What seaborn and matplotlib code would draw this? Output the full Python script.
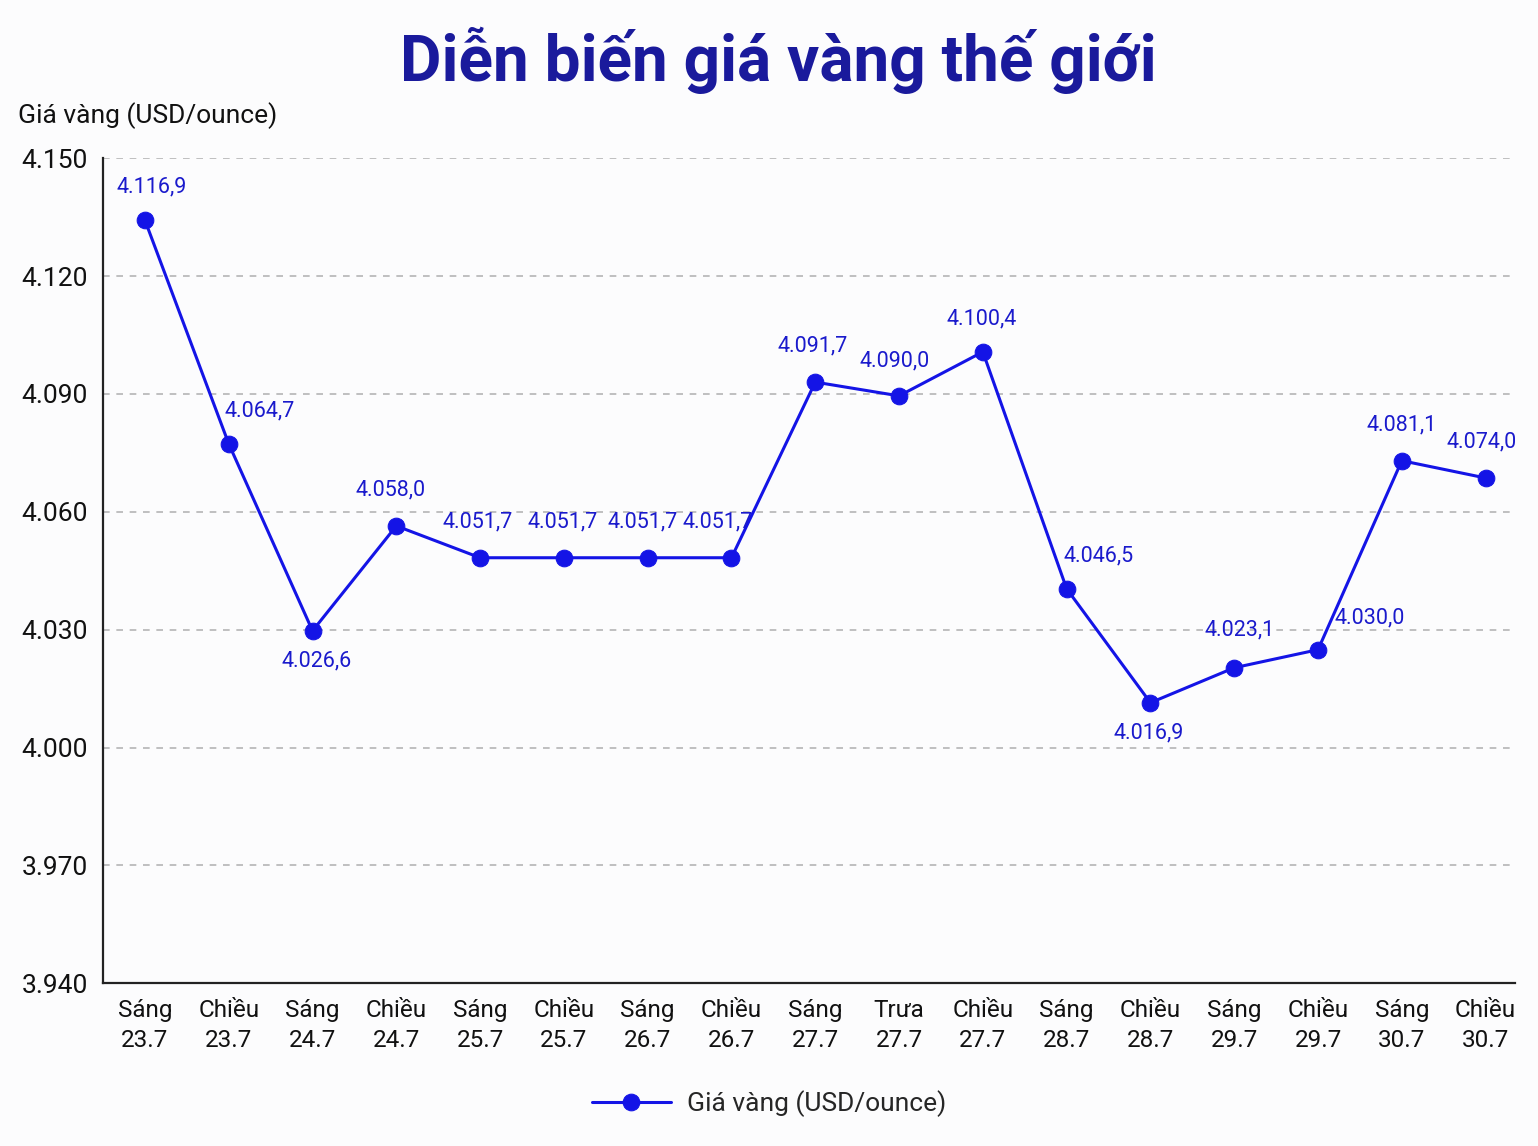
import matplotlib
matplotlib.use("Agg")
import matplotlib.pyplot as plt
import numpy as np
import pandas as pd
import seaborn as sns

# x categories (session / day)
sessions = ['Sáng', 'Chiều', 'Sáng', 'Chiều', 'Sáng', 'Chiều', 'Sáng', 'Chiều',
            'Sáng', 'Trưa', 'Chiều', 'Sáng', 'Chiều', 'Sáng', 'Chiều', 'Sáng', 'Chiều']
days = ['23.7', '23.7', '24.7', '24.7', '25.7', '25.7', '26.7', '26.7',
        '27.7', '27.7', '27.7', '28.7', '28.7', '29.7', '29.7', '30.7', '30.7']
# marker heights as drawn on the y axis of the picture
price_plotted = [4134.2, 4077.3, 4029.7, 4056.4, 4048.3, 4048.3, 4048.3, 4048.3,
                 4093.0, 4089.5, 4100.7, 4040.4, 4011.4, 4020.3, 4024.9, 4073.0, 4068.6]
# printed point labels
price_labels = ['4.116,9', '4.064,7', '4.026,6', '4.058,0', '4.051,7', '4.051,7', '4.051,7', '4.051,7',
                '4.091,7', '4.090,0', '4.100,4', '4.046,5', '4.016,9', '4.023,1', '4.030,0', '4.081,1', '4.074,0']
y_ticks = [3940, 3970, 4000, 4030, 4060, 4090, 4120, 4150]

# label offsets in points (dx, dy)
label_offsets = [(5, 24), (22, 24), (3, -22), (-4, 26), (-2, 26), (-1, 26), (-4, 26), (-10, 26),
                 (-2, 26), (-3, 25), (-1, 24), (23, 24), (-1, -22), (4, 27), (37, 23), (0, 26), (-3, 26)]

df = pd.DataFrame({'x': np.arange(len(days)), 'price': price_plotted})

sns.set_theme(style='white')
plt.rcParams['font.family'] = ['Roboto', 'DejaVu Sans']

blue = '#1414e6'
label_blue = '#1a1acc'

fig = plt.figure(figsize=(15.38, 11.46), dpi=100, facecolor='#fcfcfd')
ax = fig.add_axes([0.067, 0.142, 0.918, 0.72])
ax.set_facecolor('#fcfcfd')

sns.lineplot(data=df, x='x', y='price', ax=ax, color=blue, linewidth=2.2,
             marker='o', markersize=12, markeredgecolor=blue, markerfacecolor=blue,
             label='Giá vàng (USD/ounce)', legend=False)

for i, (val, txt) in enumerate(zip(price_plotted, price_labels)):
    dx, dy = label_offsets[i]
    ax.annotate(txt, xy=(i, val), xytext=(dx, dy), textcoords='offset points',
                ha='center', va='center', fontsize=15.5, color=label_blue)

ax.set_ylim(3940, 4150)
ax.set_xlim(-0.5, 16.35)
ax.set_yticks(y_ticks)
ax.set_yticklabels([f'{v:,}'.replace(',', '.') for v in y_ticks], fontsize=19)
ax.set_xticks(np.arange(len(days)))
ax.set_xticklabels([f'{s}\n{d}' for s, d in zip(sessions, days)], fontsize=17.5, linespacing=1.4)
ax.tick_params(axis='both', direction='out', length=7, width=1.2, color='#222222', labelcolor='#111111')
ax.tick_params(axis='x', pad=4)
ax.tick_params(axis='y', pad=4)
ax.set_xlabel('')
ax.set_ylabel('')

for v in y_ticks[1:]:
    ax.axhline(v, color='#b5b5b5', linestyle=(0, (4, 4)), linewidth=1.2, zorder=0)

for side in ['top', 'right']:
    ax.spines[side].set_visible(False)
for side in ['left', 'bottom']:
    ax.spines[side].set_color('#222222')
    ax.spines[side].set_linewidth(1.6)

fig.text(0.506, 0.947, 'Diễn biến giá vàng thế giới', ha='center', va='center',
         fontsize=46, fontweight='bold', color='#1a1a9c')
fig.text(0.012, 0.899, 'Giá vàng (USD/ounce)', ha='left', va='center', fontsize=19, color='#111111')

handles, labels = ax.get_legend_handles_labels()
fig.legend(handles, labels, loc='center', bbox_to_anchor=(0.5, 0.037), frameon=False,
           fontsize=19, handlelength=3.0, handletextpad=0.6)

fig.savefig('out.png', dpi=100, facecolor=fig.get_facecolor())
